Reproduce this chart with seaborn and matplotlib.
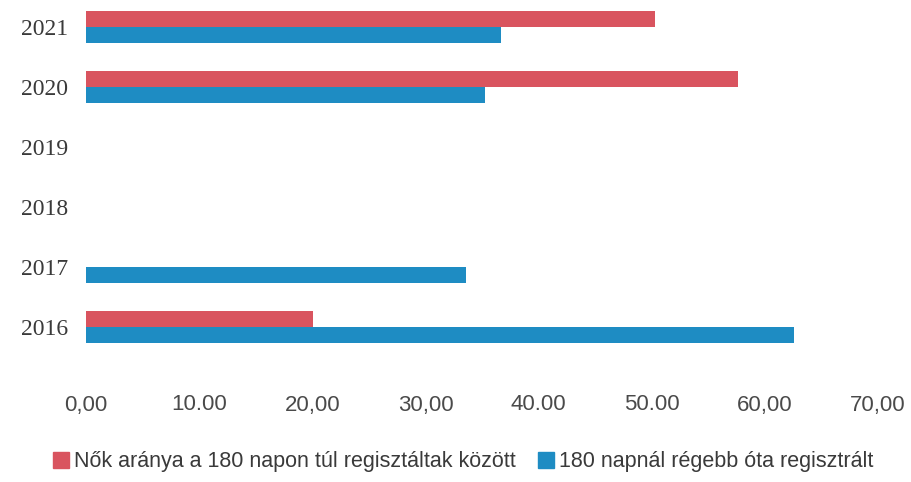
import pandas as pd
import seaborn as sns
import matplotlib.pyplot as plt
from matplotlib.patches import Patch

years = ['2021', '2020', '2019', '2018', '2017', '2016']
series_names = ['Nők aránya a 180 napon túl regisztáltak között',
                '180 napnál régebb óta regisztrált']
nok_arany = [50.3, 57.6, None, None, None, 20.1]
regebb_180 = [36.7, 35.3, None, None, 33.6, 62.6]
xtick_values = [0, 10, 20, 30, 40, 50, 60, 70]
xtick_labels = ['0,00', '10.00', '20,00', '30,00', '40.00', '50.00', '60,00', '70,00']

colors = ['#D9545F', '#1E8CC3']

rows = []
for name, vals in zip(series_names, [nok_arany, regebb_180]):
    for y, v in zip(years, vals):
        if v is not None:
            rows.append({'ev': y, 'ertek': v, 'sor': name})
df = pd.DataFrame(rows)

sns.set_style('white')
fig = plt.figure(figsize=(9.12, 4.82), dpi=100)
ax = fig.add_axes([86/912, 1-357/482, (878-86)/912, 360/482])

sns.barplot(data=df, x='ertek', y='ev', hue='sor', order=years, hue_order=series_names,
            palette=colors, orient='h', width=0.54, ax=ax, legend=False,
            saturation=1, errorbar=None, linewidth=0)

ax.set_xlim(0, 70)
ax.set_ylim(5.5, -0.5)
ax.set_xticks(xtick_values)
ax.set_xticklabels(xtick_labels, family='Liberation Sans', fontsize=16, color='#4a4a4a')
ax.set_yticks(range(len(years)))
ax.set_yticklabels(years, family='Liberation Serif', fontsize=17, color='#3a3a3a')
ax.tick_params(axis='x', length=0, pad=27)
ax.tick_params(axis='y', length=0, pad=13)
ax.set_xlabel('')
ax.set_ylabel('')
for s in ax.spines.values():
    s.set_visible(False)

handles = [Patch(color=c) for c in colors]
fig.legend(handles, series_names, loc='center', bbox_to_anchor=(0.508, 1-462/482), ncol=2,
           frameon=False, handlelength=0.75, handleheight=0.75, handletextpad=0.25,
           columnspacing=1.0, prop={'family': 'Liberation Sans', 'size': 15.5},
           labelcolor='#3a3a3a')

fig.savefig('out.png', dpi=100, facecolor='white')
